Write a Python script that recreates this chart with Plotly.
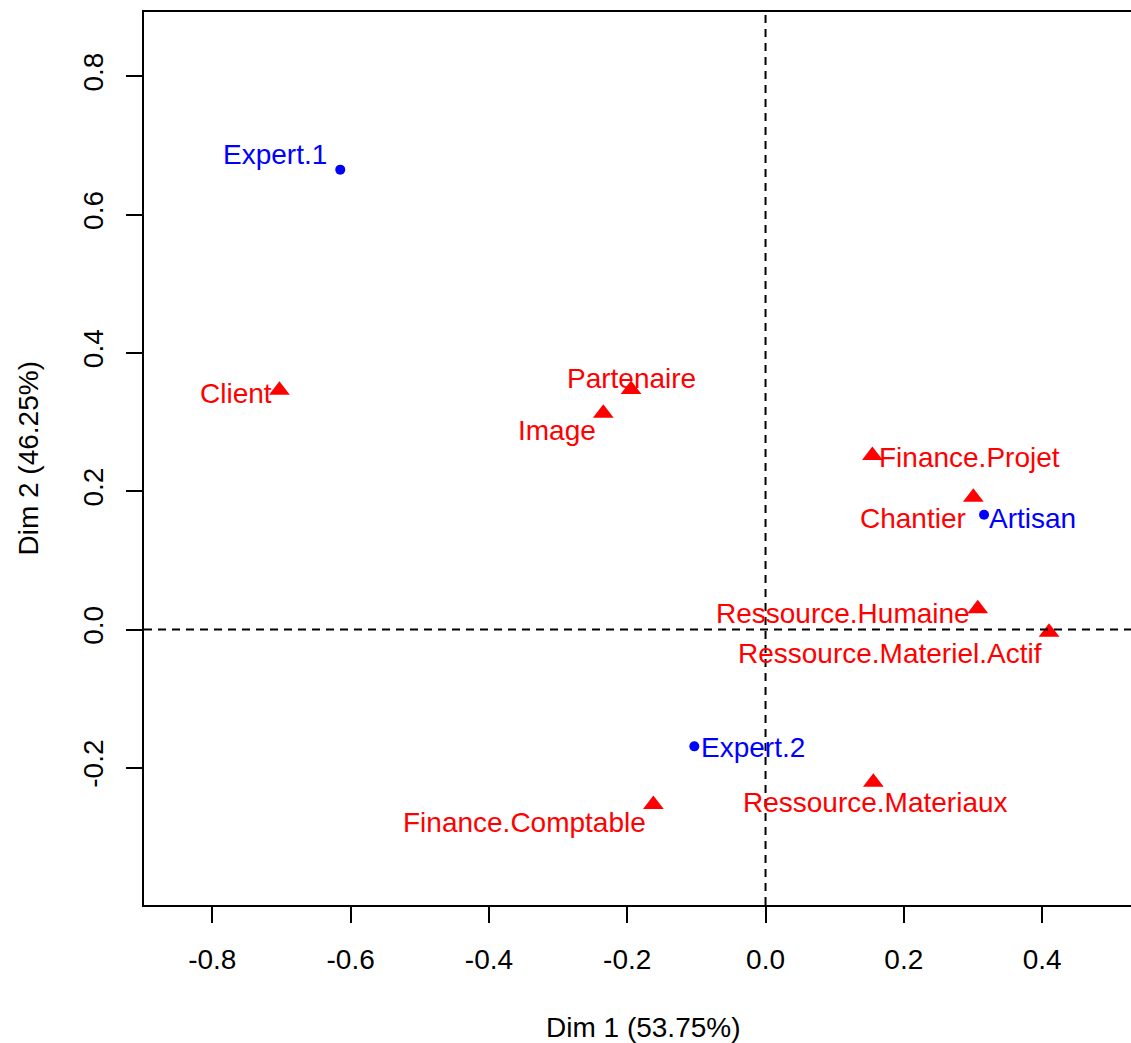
import plotly.graph_objects as go

# column points (blue dots)
col_names = ["Expert.1", "Artisan", "Expert.2"]
col_dim1 = [-0.615, 0.316, -0.103]
col_dim2 = [0.665, 0.166, -0.169]

# row points (red triangles)
row_names = [
    "Client", "Partenaire", "Image", "Finance.Projet", "Chantier",
    "Ressource.Humaine", "Ressource.Materiel.Actif", "Ressource.Materiaux",
    "Finance.Comptable",
]
row_dim1 = [-0.703, -0.1945, -0.2346, 0.1545, 0.3005, 0.3069, 0.410, 0.1559, -0.1622]
row_dim2 = [0.346, 0.347, 0.3128, 0.2516, 0.1913, 0.030, -0.004, -0.2208, -0.2531]

x_ticks = [-0.8, -0.6, -0.4, -0.2, 0.0, 0.2, 0.4]
x_tick_text = ["-0.8", "-0.6", "-0.4", "-0.2", "0.0", "0.2", "0.4"]
y_ticks = [-0.2, 0.0, 0.2, 0.4, 0.6, 0.8]
y_tick_text = ["-0.2", "0.0", "0.2", "0.4", "0.6", "0.8"]

x_title = "Dim 1 (53.75%)"
y_title = "Dim 2 (46.25%)"

# label placement: (xanchor, xshift, yshift) in pixels
label_pos = {
    "Expert.1": ("right", -12, 15),
    "Artisan": ("left", 4, -4),
    "Expert.2": ("left", 6, -1),
    "Client": ("right", -6, -3),
    "Partenaire": ("center", 0, 11),
    "Image": ("right", -6, -17),
    "Finance.Projet": ("left", 6, -2),
    "Chantier": ("right", -6, -21),
    "Ressource.Humaine": ("right", -7, -5),
    "Ressource.Materiel.Actif": ("right", -6, -21),
    "Ressource.Materiaux": ("center", 2, -20),
    "Finance.Comptable": ("right", -6, -18),
}

FONT = "Liberation Sans, Arial, sans-serif"
BLUE = "#0000FF"
RED = "#FF0000"

fig = go.Figure()
fig.add_trace(go.Scatter(
    x=row_dim1, y=row_dim2, mode="markers",
    marker=dict(symbol="triangle-up", size=18, color=RED, line=dict(width=0)),
    hoverinfo="skip", showlegend=False,
))
fig.add_trace(go.Scatter(
    x=col_dim1, y=col_dim2, mode="markers",
    marker=dict(symbol="circle", size=10, color=BLUE, line=dict(width=0)),
    hoverinfo="skip", showlegend=False,
))

for names, xs, ys, color in [(row_names, row_dim1, row_dim2, RED),
                             (col_names, col_dim1, col_dim2, BLUE)]:
    for name, x, y in zip(names, xs, ys):
        anchor, dx, dy = label_pos[name]
        fig.add_annotation(
            x=x, y=y, text=name, showarrow=False,
            xanchor=anchor, yanchor="middle", xshift=dx, yshift=dy,
            borderpad=0, font=dict(family=FONT, size=28, color=color),
        )

fig.add_hline(y=0, line=dict(color="black", width=2, dash="8px,6px"))
fig.add_vline(x=0, line=dict(color="black", width=2, dash="8px,6px"))

axis_common = dict(
    showgrid=False, zeroline=False, showline=True, linecolor="black", linewidth=2,
    ticks="outside", ticklen=16, tickwidth=2, tickcolor="black",
    tickfont=dict(family=FONT, size=28, color="black"),
)
fig.update_xaxes(
    range=[-0.8988, 0.5285], tickvals=x_ticks, ticktext=x_tick_text,
    mirror=True, ticklabelstandoff=12, **axis_common,
)
fig.update_yaxes(
    range=[-0.3984, 0.893], tickvals=y_ticks, ticktext=y_tick_text,
    tickangle=-90, ticklabelstandoff=12, **axis_common,
)

fig.add_annotation(
    text=x_title, xref="paper", yref="paper", x=0.5056, y=-0.137,
    xanchor="center", yanchor="middle", showarrow=False,
    font=dict(family=FONT, size=28, color="black"),
)
fig.add_annotation(
    text=y_title, xref="paper", yref="paper", x=-0.1175, y=0.5,
    xanchor="center", yanchor="middle", textangle=-90, showarrow=False,
    font=dict(family=FONT, size=28, color="black"),
)

fig.update_layout(
    width=1131, height=1043,
    margin=dict(l=144, r=0, t=12, b=138),
    paper_bgcolor="white", plot_bgcolor="white",
)

# drop the default page margin and scrollbars so the figure fills the window
fig.write_html(
    "out.html",
    config={"displayModeBar": False},
    post_script="document.body.style.margin='0px';document.body.style.overflow='hidden';",
)
